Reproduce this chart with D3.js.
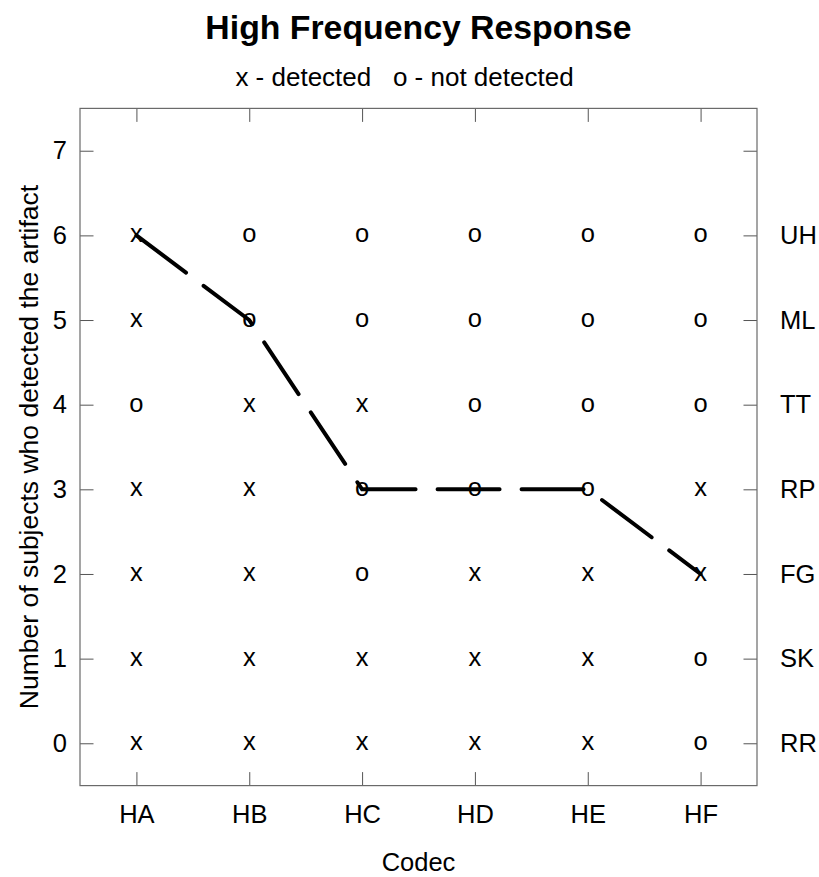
<!DOCTYPE html>
<html>
<head>
<meta charset="utf-8">
<script src="https://cdn.jsdelivr.net/npm/d3@7"></script>
<style>
  html, body { margin: 0; padding: 0; background: #fff; }
  svg { display: block; }
  text { font-family: "Liberation Sans", Arial, Helvetica, sans-serif; fill: #000; }
</style>
</head>
<body>
<svg id="chart" width="819" height="877"></svg>
<script>
// ---- data ----
const codecs = ["HA", "HB", "HC", "HD", "HE", "HF"];
const subjects = ["RR", "SK", "FG", "RP", "TT", "ML", "UH"];   // rows 0..6
const yTickValues = [0, 1, 2, 3, 4, 5, 6, 7];
// x = detected, o = not detected; one array per subject, in codec order
const resultRR = ["x", "x", "x", "x", "x", "o"];
const resultSK = ["x", "x", "x", "x", "x", "o"];
const resultFG = ["x", "x", "o", "x", "x", "x"];
const resultRP = ["x", "x", "o", "o", "o", "x"];
const resultTT = ["o", "x", "x", "o", "o", "o"];
const resultML = ["x", "o", "o", "o", "o", "o"];
const resultUH = ["x", "o", "o", "o", "o", "o"];
const detectedCount = [6, 5, 3, 3, 3, 2];

const titleText = "High Frequency Response";
const subtitleText = "x - detected   o - not detected";
const xTitle = "Codec";
const yTitle = "Number of subjects who detected the artifact";

// ---- layout ----
const svg = d3.select("#chart");
const L = 80, R = 757, T = 108.4, B = 785.6;
const fs = 25.5;
const tickLen = 13.5;
const tickColor = "#555";

const x = d3.scaleLinear().domain([0.5, codecs.length + 0.5]).range([L, R]);
const y = d3.scaleLinear().domain([-0.5, 7.5]).range([B, T]);
const codecPos = codecs.map((c, i) => i + 1);

const resultRows = [resultRR, resultSK, resultFG, resultRP, resultTT, resultML, resultUH];
const cells = [];
resultRows.forEach((row, r) => row.forEach((v, c) => cells.push({ r, c: c + 1, v })));

// ---- axes ----
function styleAxis(g) {
  g.select(".domain").remove();
  g.selectAll(".tick line").attr("stroke", tickColor).attr("stroke-width", 1);
  g.selectAll(".tick text").attr("font-size", fs).attr("fill", "#000")
    .style("font-family", '"Liberation Sans", Arial, Helvetica, sans-serif');
}

svg.append("g").attr("transform", `translate(0,${B})`)
  .call(d3.axisBottom(x).tickValues(codecPos).tickFormat((d) => codecs[d - 1])
    .tickSizeInner(-tickLen).tickSizeOuter(0).tickPadding(19.4))
  .call(styleAxis);

svg.append("g").attr("transform", `translate(0,${T})`)
  .call(d3.axisTop(x).tickValues(codecPos).tickFormat("")
    .tickSizeInner(-tickLen).tickSizeOuter(0))
  .call(styleAxis);

svg.append("g").attr("transform", `translate(${L},0)`)
  .call(d3.axisLeft(y).tickValues(yTickValues).tickFormat(d3.format("d"))
    .tickSizeInner(-tickLen).tickSizeOuter(0).tickPadding(13))
  .call(styleAxis);

svg.append("g").attr("transform", `translate(${R},0)`)
  .call(d3.axisRight(y).tickValues(yTickValues).tickFormat((d) => subjects[d] || "")
    .tickSizeInner(-tickLen).tickSizeOuter(0).tickPadding(23))
  .call(styleAxis);

// frame
svg.append("rect")
  .attr("x", L).attr("y", T).attr("width", R - L).attr("height", B - T)
  .attr("fill", "none").attr("stroke", "#6a6a6a").attr("stroke-width", 1.2);

// ---- markers ----
svg.append("g").selectAll("text").data(cells).join("text")
  .attr("x", (d) => x(d.c)).attr("y", (d) => y(d.r))
  .attr("dy", "0.27em")
  .attr("text-anchor", "middle")
  .attr("font-size", fs)
  .text((d) => d.v);

// ---- dashed line ----
const line = d3.line().x((d, i) => x(i + 1)).y((d) => y(d));
svg.append("path")
  .datum(detectedCount)
  .attr("d", line)
  .attr("fill", "none")
  .attr("stroke", "#000")
  .attr("stroke-width", 4)
  .attr("stroke-linecap", "round")
  .attr("stroke-dasharray", "62,22");

// ---- titles ----
const cx = (L + R) / 2;
svg.append("text").attr("x", cx).attr("y", 39).attr("text-anchor", "middle")
  .attr("font-size", 33.8).attr("font-weight", "bold").text(titleText);
svg.append("text").attr("x", cx - 14).attr("y", 86).attr("text-anchor", "middle")
  .attr("font-size", 26).style("white-space", "pre").text(subtitleText);
svg.append("text").attr("x", cx).attr("y", 871).attr("text-anchor", "middle")
  .attr("font-size", fs).text(xTitle);
svg.append("text").attr("transform", `translate(38,${(T + B) / 2}) rotate(-90)`)
  .attr("text-anchor", "middle").attr("font-size", 26.5).text(yTitle);
</script>
</body>
</html>
